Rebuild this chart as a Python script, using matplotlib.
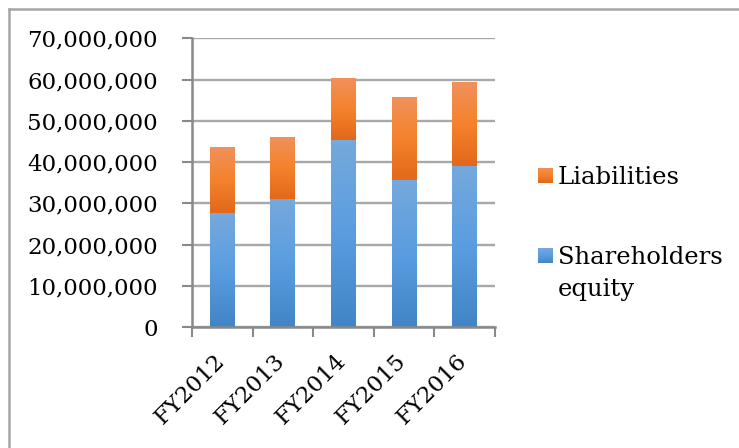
import matplotlib.pyplot as plt
import numpy as np
from matplotlib.colors import LinearSegmentedColormap
from matplotlib.patches import Rectangle
from matplotlib.ticker import FuncFormatter

years = ['FY2012', 'FY2013', 'FY2014', 'FY2015', 'FY2016']
equity = [27.6e6, 31.0e6, 45.4e6, 35.7e6, 39.1e6]
liabilities = [16.0e6, 15.1e6, 15.0e6, 20.1e6, 20.3e6]

plt.rcParams['font.family'] = ['DejaVu Serif']
FS = 16.5

# Office style vertical gradients (bottom -> top)
blue_cm = LinearSegmentedColormap.from_list('blue', ['#4285c6', '#5a9de0', '#76a9dc'])
orange_cm = LinearSegmentedColormap.from_list('orange', ['#e2681a', '#f5822c', '#f0915c'])

fig = plt.figure(figsize=(7.39, 4.48), dpi=100)
ax = fig.add_axes([192 / 739, 1 - 327 / 448, 303 / 739, (327 - 38.3) / 448])

x = np.arange(len(years))
width = 0.41
bars_eq = ax.bar(x, equity, width, color='#5a9de0', zorder=2)
bars_li = ax.bar(x, liabilities, width, bottom=equity, color='#f5822c', zorder=2)

grad = np.linspace(0, 1, 256).reshape(-1, 1)
for bars, cm in ((bars_eq, blue_cm), (bars_li, orange_cm)):
    for b in bars:
        x0, y0 = b.get_x(), b.get_y()
        im = ax.imshow(grad, cmap=cm, origin='lower', aspect='auto', zorder=3,
                       extent=[x0, x0 + b.get_width(), y0, y0 + b.get_height()])
        im.set_clip_path(b)

ax.set_xlim(-0.5, len(years) - 0.5)
ax.set_ylim(0, 70e6)
ax.set_yticks(np.arange(0, 70e6 + 1, 10e6))
ax.yaxis.set_major_formatter(FuncFormatter(lambda v, p: f'{int(v):,}'))
ax.grid(axis='y', color='#a8a8a8', linewidth=1.7, zorder=1)
ax.set_axisbelow(True)

for side in ('top', 'right'):
    ax.spines[side].set_visible(False)
for side in ('left', 'bottom'):
    ax.spines[side].set_color('#898989')
    ax.spines[side].set_linewidth(1.8)
    ax.spines[side].set_zorder(4)

ax.set_xticks(np.arange(len(years) + 1) - 0.5)
ax.set_xticklabels([])
ax.tick_params(axis='x', length=7, width=1.5, color='#898989')
ax.tick_params(axis='y', length=7, width=1.5, color='#898989', labelsize=FS, pad=17.5)

for xi, name in zip(x, years):
    ax.annotate(name, xy=(xi, 0), xycoords=('data', 'axes fraction'),
                xytext=(-1, -31), textcoords='offset pixels', rotation=45,
                rotation_mode='anchor', ha='right', va='center', fontsize=FS)

# legend drawn by hand in figure pixels
def px(xp, yp):
    return xp / 739, 1 - yp / 448

legend_items = [('Liabilities', orange_cm, 168), ('Shareholders\nequity', blue_cm, 248)]
for label, cm, ytop in legend_items:
    key = fig.add_axes([538 / 739, 1 - (ytop + 15) / 448, 15 / 739, 15 / 448])
    key.imshow(grad, cmap=cm, origin='lower', aspect='auto')
    key.axis('off')
    fig.text(*px(558, ytop - 2), label, ha='left', va='top',
             fontsize=17.5, linespacing=1.5)

# outer frame (only top and left edges fall inside the image)
fig.add_artist(plt.Line2D([9 / 739, 1], [1 - 9 / 448] * 2, color='#a6a6a6', lw=1.8,
                          transform=fig.transFigure))
fig.add_artist(plt.Line2D([9 / 739] * 2, [0, 1 - 9 / 448], color='#a6a6a6', lw=1.8,
                          transform=fig.transFigure))

fig.savefig('out.png', dpi=100)
